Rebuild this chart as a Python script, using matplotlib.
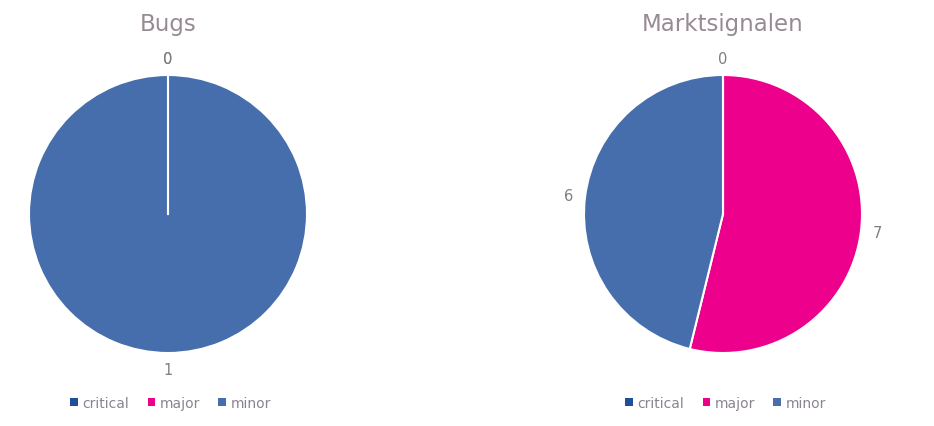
import numpy as np
import matplotlib.pyplot as plt
from matplotlib.patches import Patch

categories = ["critical", "major", "minor"]
colors = ["#1F4E9A", "#EC008C", "#466EAC"]

bugs = [0, 0, 1]
markt = [0, 7, 6]

titles = ["Bugs", "Marktsignalen"]
series = [bugs, markt]

W, H = 934, 427
fig = plt.figure(figsize=(W / 100, H / 100), dpi=100)

title_col = "#978A93"
label_col = "#7F7F7F"
legend_col = "#8A8490"

centers = [(168, 215), (723, 215)]
r = 139
for i, (cx, cy) in enumerate(centers):
    x0 = 0 if i == 0 else 467
    ax = fig.add_axes([x0 / W, 0, 467 / W, 1])
    wedges, texts = ax.pie(series[i], labels=[str(v) for v in series[i]], colors=colors,
                           startangle=90, counterclock=False, labeldistance=1.12,
                           wedgeprops=dict(edgecolor="white", linewidth=1.5),
                           textprops=dict(color=label_col, fontsize=10.5))
    for t in texts:
        t.set_ha("center")
        t.set_va("center")
    # zero-size slices still leave a white separator line (like excel)
    for w in wedges:
        if w.theta1 == w.theta2:
            a = np.deg2rad(w.theta1)
            ax.plot([w.center[0], w.center[0] + w.r * np.cos(a)],
                    [w.center[1], w.center[1] + w.r * np.sin(a)],
                    color="white", lw=1.5, zorder=5)
    ax.set_aspect("auto")
    ax.set_xlim(-(cx - x0) / r, (x0 + 467 - cx) / r)
    ax.set_ylim(-(H - cy) / r, cy / r)
    ax.axis("off")

    fig.text(cx / W, 1 - 25 / H, titles[i], ha="center", va="center",
             fontsize=16.5, color=title_col)

    handles = [Patch(facecolor=c, edgecolor="none") for c in colors]
    fig.legend(handles, categories, loc="center", bbox_to_anchor=(cx / W + 0.003, 1 - 404 / H),
               ncol=3, frameon=False, handlelength=0.55, handleheight=0.55,
               handletextpad=0.35, columnspacing=1.3, fontsize=10, labelcolor=legend_col)

fig.savefig("out.png", dpi=100)
